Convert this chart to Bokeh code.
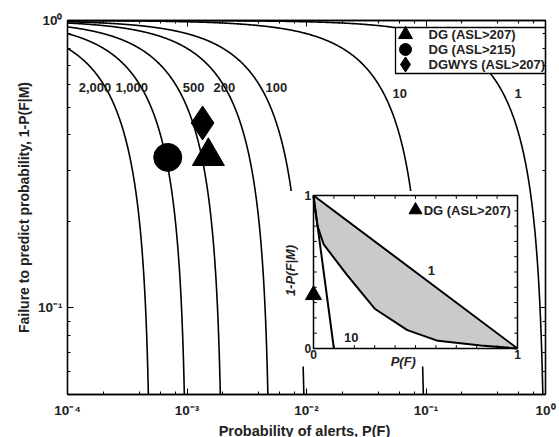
import numpy as np
from math import pi
from bokeh.plotting import figure
from bokeh.models import (Range1d, LinearScale, LogAxis, LogTicker, FixedTicker,
                          CustomJSTickFormatter, Title)
from bokeh.core.properties import value
from bokeh.embed import file_html
from bokeh.resources import INLINE

FONT = "Liberation Sans"

# ---------------- data ----------------
gains = [2000, 1000, 500, 200, 100, 10, 1]
gain_labels = ["2,000", "1,000", "500", "200", "100", "10", "1"]

series_names = ["DG (ASL>207)", "DG (ASL>215)", "DGWYS (ASL>207)"]
series_markers = ["triangle", "circle", "diamond"]
alert_prob = [1.51e-3, 6.9e-4, 1.35e-3]
fail_prob = [0.337, 0.334, 0.44]

inset_gains = [1, 10]
inset_gain_labels = ["1", "10"]
inset_lower_x = [0.0, 0.005, 0.02, 0.05, 0.165, 0.30, 0.46, 0.61, 0.82, 1.0]
inset_lower_y = [1.0, 0.93, 0.80, 0.68, 0.48, 0.26, 0.12, 0.05, 0.02, 0.0]
inset_point_name = "DG (ASL>207)"
inset_point_x = [0.0]
inset_point_y = [0.35]
inset_ticks = [0.1, 0.2, 0.3, 0.4, 0.5, 0.6, 0.7, 0.8, 0.9]
inset_tick_labels = ["0", "1"]

x_ticks = [1e-4, 1e-3, 1e-2, 1e-1, 1.0]
y_ticks = [0.1, 1.0]
y_minor_ticks = [0.05, 0.06, 0.07, 0.08, 0.09,
                 0.2, 0.3, 0.4, 0.5, 0.6, 0.7, 0.8, 0.9]

x_title = "Probability of alerts,  P(F)"
y_title = "Failure to predict probability, 1-P(F|M)"

# ---------------- layout constants ----------------
FW, FH = 478, 374
label_x = [1.24e-4, 2.52e-4, 9.2e-4, 1.67e-3, 4.54e-3, 0.0525, 0.55]
label_y = [0.583, 0.583, 0.583, 0.583, 0.583, 0.558, 0.558]

p = figure(frame_width=FW, frame_height=FH,
           x_axis_type="log", y_axis_type="log",
           x_range=Range1d(1e-4, 1.0), y_range=Range1d(0.05, 1.0),
           output_backend="svg", toolbar_location=None,
           min_border_left=67, min_border_right=13,
           min_border_top=20, min_border_bottom=42,
           background_fill_color="white", border_fill_color="white")
p.grid.visible = False
p.outline_line_color = "black"
p.outline_line_width = 1.3

# extra coordinate systems: inset (linear 0..1) and frame pixels
p.extra_x_ranges = {"ix": Range1d(-(313 - 67) / 204, 1 + (545 - 517) / 204),
                    "sx": Range1d(0, FW)}
p.extra_y_ranges = {"iy": Range1d(-(394 - 348) / 153, 1 + (195 - 20) / 153),
                    "sy": Range1d(0, FH)}
p.extra_x_scales = {"ix": LinearScale(), "sx": LinearScale()}
p.extra_y_scales = {"iy": LinearScale(), "sy": LinearScale()}

fmt = CustomJSTickFormatter(code="""
const e = Math.round(Math.log10(tick));
const sup = {'-':'\u207b','0':'\u2070','1':'\u00b9','2':'\u00b2','3':'\u00b3','4':'\u2074','5':'\u2075','6':'\u2076','7':'\u2077','8':'\u2078','9':'\u2079'};
return '10' + String(e).split('').map(c => sup[c]).join('');
""")
blank = CustomJSTickFormatter(code="return '';")

xticker = LogTicker()
yticker = FixedTicker(ticks=y_ticks, minor_ticks=y_minor_ticks)


def style_axis(ax):
    ax.major_tick_in = 6
    ax.major_tick_out = 0
    ax.minor_tick_in = 3
    ax.minor_tick_out = 0
    ax.axis_line_color = "black"
    ax.axis_line_width = 1.3
    ax.major_tick_line_color = "black"
    ax.minor_tick_line_color = "black"


for ax in (p.xaxis[0], p.yaxis[0]):
    style_axis(ax)
    ax.formatter = fmt
    ax.major_label_text_font = FONT
    ax.major_label_text_font_style = "bold"
    ax.major_label_text_font_size = "13.5px"
    ax.major_label_text_color = "#222222"
p.xaxis[0].ticker = xticker
p.yaxis[0].ticker = yticker
p.xaxis[0].major_label_standoff = 8
p.yaxis[0].major_label_standoff = 5

top_ax = LogAxis(ticker=LogTicker(), formatter=blank)
right_ax = LogAxis(ticker=FixedTicker(ticks=y_ticks, minor_ticks=y_minor_ticks),
                   formatter=blank)
for ax in (top_ax, right_ax):
    style_axis(ax)
    ax.major_label_text_font_size = "0px"
    ax.major_label_standoff = 0
p.add_layout(top_ax, "above")
p.add_layout(right_ax, "right")

# axis titles
p.add_layout(Title(text=x_title, align="center", text_font=FONT,
                   text_font_size="14.5px", text_font_style="bold",
                   text_color="#222222", standoff=0, offset=-4), "below")
p.add_layout(Title(text=y_title, align="center", text_font=FONT,
                   text_font_size="14px", text_font_style="bold",
                   text_color="#222222", standoff=6, offset=25), "left")

# ---------------- gain curves ----------------
xs, ys = [], []
for G in gains:
    x1 = np.logspace(-4, np.log10(0.97 / G), 400)
    yy = np.logspace(np.log10(0.03), np.log10(1 - G * 1e-4), 400)
    x2 = (1 - yy) / G
    x = np.unique(np.concatenate([x1, x2]))
    x = x[(x >= 1e-4) & (x < 1.0 / G)]
    xs.append(list(x))
    ys.append(list(1 - G * x))
p.multi_line(xs, ys, line_color="black", line_width=1.6)

p.text(x=label_x, y=label_y, text=gain_labels, text_font=value(FONT),
       text_font_style="bold", text_font_size="13px", text_color="#222222",
       text_align="left", text_baseline="middle")

# ---------------- data points ----------------
marker_size = {"triangle": 32, "circle": 28, "diamond": 34}
for name, m, xv, yv in zip(series_names, series_markers, alert_prob, fail_prob):
    p.scatter([xv], [yv], marker=m, size=marker_size[m],
              fill_color="black", line_color="black")

# ---------------- legend (frame pixel coords) ----------------
p.quad(left=[328], right=[FW], bottom=[321], top=[367],
       fill_color="white", line_color="black", line_width=1.3,
       x_range_name="sx", y_range_name="sy")
leg_y = [360, 345, 330]
leg_size = {"triangle": 14, "circle": 12, "diamond": 15}
for name, m, ly in zip(series_names, series_markers, leg_y):
    p.scatter([338], [ly], marker=m, size=leg_size[m], fill_color="black",
              line_color="black", x_range_name="sx", y_range_name="sy")
p.text(x=[361] * 3, y=leg_y, text=series_names, text_font=value(FONT),
       text_font_style="bold", text_font_size="13px", text_color="#222222",
       text_align="left", text_baseline="middle",
       x_range_name="sx", y_range_name="sy")

# ---------------- inset ----------------
p.quad(left=[-0.147], right=[1.03], bottom=[-0.118], top=[1.03],
       fill_color="white", line_color=None, x_range_name="ix", y_range_name="iy")
patch_x = [0.0, 1.0] + inset_lower_x[::-1]
patch_y = [1.0, 0.0] + inset_lower_y[::-1]
p.patch(patch_x, patch_y, fill_color="#cacaca", line_color=None,
        x_range_name="ix", y_range_name="iy")
p.line(inset_lower_x, inset_lower_y, line_color="black", line_width=2,
       x_range_name="ix", y_range_name="iy")
for G in inset_gains:
    p.line([0.0, 1.0 / G], [1.0, 0.0], line_color="black", line_width=2,
           x_range_name="ix", y_range_name="iy")
p.quad(left=[0], right=[1], bottom=[0], top=[1], fill_color=None,
       line_color="black", line_width=1.5, x_range_name="ix", y_range_name="iy")
t = inset_ticks
n = len(t)
p.segment(x0=t, x1=t, y0=[0] * n, y1=[0.022] * n, line_color="black",
          x_range_name="ix", y_range_name="iy")
p.segment(x0=t, x1=t, y0=[1] * n, y1=[0.978] * n, line_color="black",
          x_range_name="ix", y_range_name="iy")
p.segment(x0=[0] * n, x1=[0.016] * n, y0=t, y1=t, line_color="black",
          x_range_name="ix", y_range_name="iy")
p.segment(x0=[1] * n, x1=[0.984] * n, y0=t, y1=t, line_color="black",
          x_range_name="ix", y_range_name="iy")
# inset tick labels
p.text(x=[-0.012, -0.012], y=[0.0, 1.0], text=inset_tick_labels,
       text_font=value(FONT), text_font_style="bold", text_font_size="12px",
       text_align="right", text_baseline="middle", text_color="#222222",
       x_range_name="ix", y_range_name="iy")
p.text(x=[0.0, 1.0], y=[-0.012, -0.012], text=inset_tick_labels,
       text_font=value(FONT), text_font_style="bold", text_font_size="12px",
       text_align="center", text_baseline="top", text_color="#222222",
       x_range_name="ix", y_range_name="iy")
p.text(x=[0.44], y=[-0.085], text=["P(F)"], text_font=value(FONT),
       text_font_style="bold italic", text_font_size="13px",
       text_align="center", text_baseline="middle", text_color="#222222",
       x_range_name="ix", y_range_name="iy")
p.text(x=[-0.113], y=[0.51], text=["1-P(F|M)"], text_font=value(FONT),
       text_font_style="bold italic", text_font_size="13px", angle=pi / 2,
       text_align="center", text_baseline="middle", text_color="#222222",
       x_range_name="ix", y_range_name="iy")
# inset curve labels
p.text(x=[0.56, 0.15], y=[0.51, 0.07], text=inset_gain_labels,
       text_font=value(FONT), text_font_style="bold", text_font_size="13px",
       text_align="left", text_baseline="middle", text_color="#222222",
       x_range_name="ix", y_range_name="iy")
# inset point + its label
p.scatter(inset_point_x, inset_point_y, marker="triangle", size=16,
          fill_color="black", line_color="black",
          x_range_name="ix", y_range_name="iy")
p.scatter([0.5], [0.905], marker="triangle", size=13, fill_color="black",
          line_color="black", x_range_name="ix", y_range_name="iy")
p.text(x=[0.54], y=[0.905], text=[inset_point_name], text_font=value(FONT),
       text_font_style="bold", text_font_size="13px", text_align="left",
       text_baseline="middle", text_color="#222222",
       x_range_name="ix", y_range_name="iy")

open("out.html", "w").write(file_html(p, INLINE))
